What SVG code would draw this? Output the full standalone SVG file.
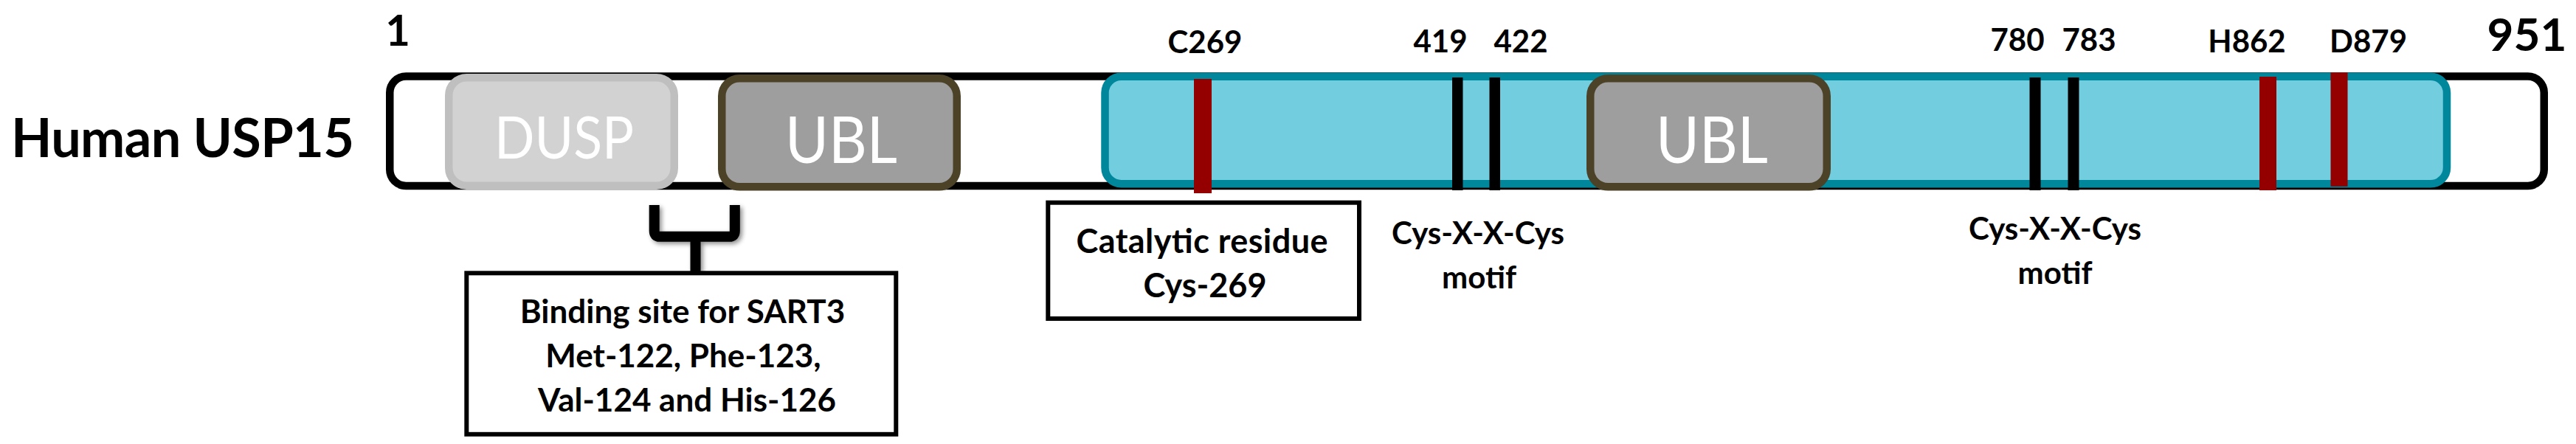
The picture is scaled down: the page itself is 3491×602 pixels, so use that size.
<svg xmlns="http://www.w3.org/2000/svg" width="3491" height="602" viewBox="0 0 3491 602">
<style>
.t{font-family:Lato,"Open Sans",sans-serif;font-weight:bold;fill:#000;text-anchor:middle}
.dom{font-family:Lato,"Open Sans",sans-serif;font-weight:normal;fill:#fff;text-anchor:middle}
.lbl{font-size:42px}
.res{stroke:none}
</style>
<defs>
<filter id="sh" x="-20%" y="-20%" width="160%" height="160%">
<feGaussianBlur in="SourceAlpha" stdDeviation="3"/>
<feOffset dx="3" dy="3" result="b"/>
<feComponentTransfer><feFuncA type="linear" slope="0.45"/></feComponentTransfer>
<feMerge><feMergeNode/><feMergeNode in="SourceGraphic"/></feMerge>
</filter>
</defs>
<rect width="3491" height="602" fill="#fff"/>
<text class="t" x="15" y="213" font-size="72" style="text-anchor:start" textLength="465">Human USP15</text>
<text class="t" x="539" y="62" font-size="58">1</text>
<text class="t" x="3424.5" y="68.5" font-size="62">951</text>
<g id="protein">
<rect x="528.25" y="103.5" width="2919.5" height="148.5" rx="22" fill="#fff" stroke="#000" stroke-width="10.5"/>
</g>
<g id="dusp">
<rect x="608.25" y="105.25" width="305.5" height="146.5" rx="24" fill="#d2d2d2" stroke="#bfbfbf" stroke-width="10.5"/>
<text class="dom" x="764.5" y="215" font-size="80" textLength="189" lengthAdjust="spacingAndGlyphs">DUSP</text>
</g>
<g id="ubl1">
<rect x="978.25" y="106.25" width="318.5" height="147" rx="24" fill="#9e9e9e" stroke="#4c4228" stroke-width="10.5"/>
<text class="dom" x="1140" y="220.7" font-size="88" textLength="152" lengthAdjust="spacingAndGlyphs">UBL</text>
</g>
<g id="usp-domain">
<rect x="1497.5" y="103.75" width="1818.5" height="145.5" rx="22" fill="#72cddf" stroke="#00879c" stroke-width="10.5"/>
</g>
<g id="ubl2">
<rect x="2155.25" y="106.25" width="320.5" height="147" rx="24" fill="#9e9e9e" stroke="#4c4228" stroke-width="10.5"/>
<text class="dom" x="2320" y="220.7" font-size="88" textLength="152" lengthAdjust="spacingAndGlyphs">UBL</text>
</g>
<g id="residues">
<rect class="res" x="1618" y="107" width="24" height="155" fill="#940000"/>
<rect class="res" x="1968" y="105" width="14.5" height="153" fill="#000"/>
<rect class="res" x="2018.5" y="105" width="14.5" height="153" fill="#000"/>
<rect class="res" x="2750.5" y="105" width="15" height="153" fill="#000"/>
<rect class="res" x="2802.5" y="105" width="15" height="153" fill="#000"/>
<rect class="res" x="3062" y="104" width="23" height="154" fill="#940000"/>
<rect class="res" x="3158.5" y="98.3" width="23" height="154.5" fill="#940000"/>
</g>
<g id="residue-labels">
<text class="t lbl" x="1633" y="71.5">C269</text>
<text class="t lbl" x="1952" y="71">419</text>
<text class="t lbl" x="2061" y="71">422</text>
<text class="t lbl" x="2734" y="68.5">780</text>
<text class="t lbl" x="2831" y="68.5">783</text>
<text class="t lbl" x="3045" y="71">H862</text>
<text class="t lbl" x="3209.5" y="71">D879</text>
</g>
<g id="connectors">
<path d="M886.7,278 V313 Q886.7,320.8 894,320.8 H988.5 Q995.8,320.8 995.8,313 V278 M942.5,320.8 V368" fill="none" stroke="#000" stroke-width="14" filter="url(#sh)"/>
</g>
<g id="binding-box">
<rect x="632.3" y="370.3" width="582" height="218.5" fill="#fff" stroke="#000" stroke-width="6"/>
<text class="t" font-size="44" x="925" y="438">Binding site for SART3</text>
<text class="t" font-size="44" x="926" y="498">Met-122, Phe-123,</text>
<text class="t" font-size="44" x="931" y="558">Val-124 and His-126</text>
</g>
<g id="catalytic-box">
<rect x="1420.3" y="274.7" width="421.7" height="157.3" fill="#fff" stroke="#000" stroke-width="6"/>
<text class="t" font-size="45" x="1629" y="343" textLength="341">Catalytic residue</text>
<text class="t" font-size="45" x="1633" y="403">Cys-269</text>
</g>
<g id="motif1">
<text class="t" font-size="42" x="2003" y="331">Cys-X-X-Cys</text>
<text class="t" font-size="42" x="2004.5" y="391">motif</text>
</g>
<g id="motif2">
<text class="t" font-size="42" x="2785" y="325">Cys-X-X-Cys</text>
<text class="t" font-size="42" x="2785" y="385">motif</text>
</g>
</svg>
